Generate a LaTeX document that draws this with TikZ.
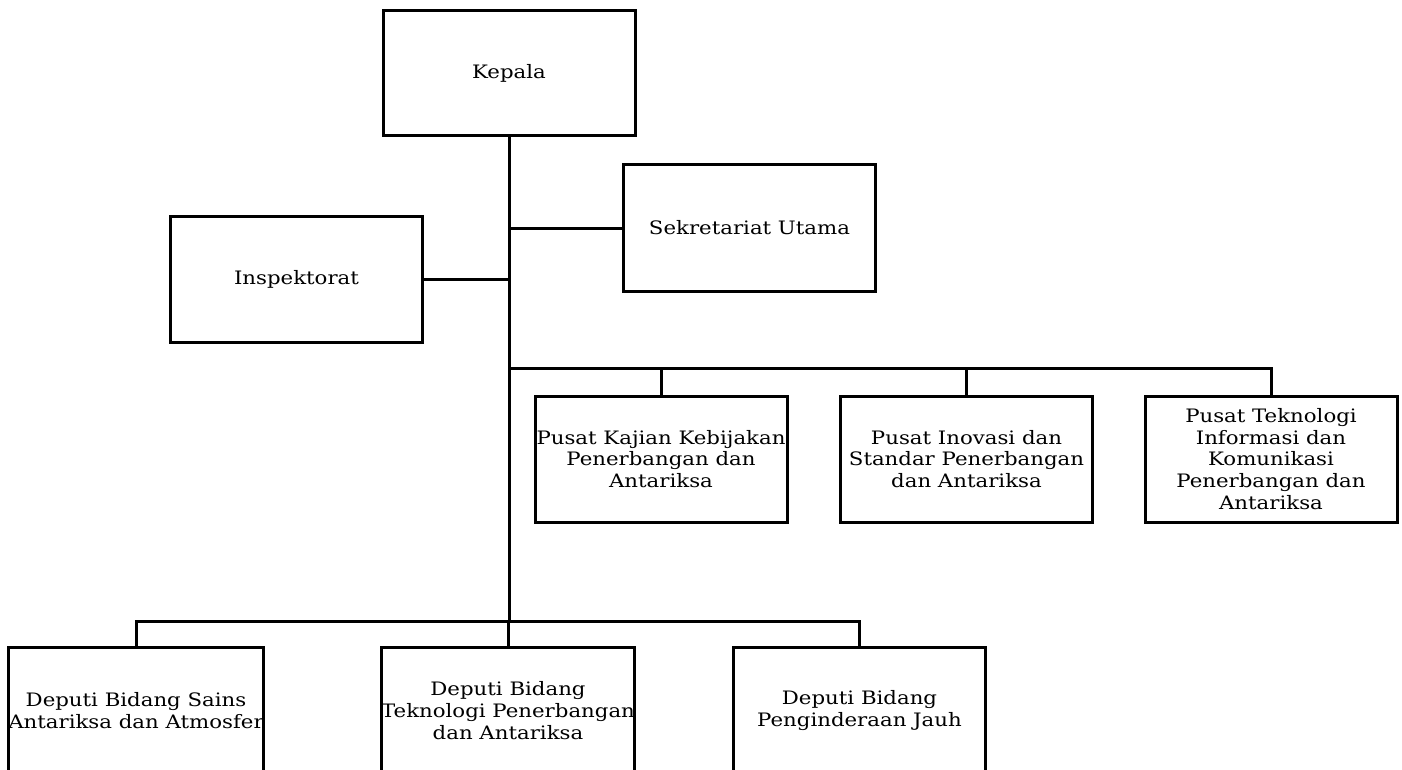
\documentclass[tikz,border=0pt]{standalone}
\usepackage{fontspec}
\setmainfont{DejaVu Serif}[FakeStretch=1.15]
\begin{document}
\begin{tikzpicture}[x=1pt,y=-1pt,
  box/.style={draw, line width=3pt, minimum width=252pt, minimum height=126pt,
    inner sep=0pt, align=center, font=\fontsize{18.5}{21.7}\selectfont},
  conn/.style={line width=3pt}]
\useasboundingbox (0,0) rectangle (1402,770);
\clip (0,0) rectangle (1402,770);
\node[box, minimum height=125pt] (kepala) at (509,73.5) {Kepala};
\node[box] (sek) at (749.5,228) {Sekretariat Utama};
\node[box] (insp) at (296.5,279) {Inspektorat};
\node[box] (pkajian) at (661,459) {Pusat Kajian Kebijakan\\Penerbangan dan\\Antariksa};
\node[box] (pinovasi) at (966.5,459) {Pusat Inovasi dan\\Standar Penerbangan\\dan Antariksa};
\node[box] (ptik) at (1271,459) {Pusat Teknologi\\Informasi dan\\Komunikasi\\Penerbangan dan\\Antariksa};
\node[box] (dsains) at (136,710.5) {Deputi Bidang Sains\\Antariksa dan Atmosfer};
\node[box] (dtek) at (508,710.5) {Deputi Bidang\\Teknologi Penerbangan\\dan Antariksa};
\node[box] (dpeng) at (859.5,710.5) {Deputi Bidang\\Penginderaan Jauh};
\coordinate (bus1) at (509,368.5);
\coordinate (bus2) at (509,621);
\draw[conn] (kepala.south) -- (bus2);
\draw[conn] (sek.west) -- (sek.west -| kepala.south);
\draw[conn] (insp.east) -- (insp.east -| kepala.south);
\draw[conn] (bus1) -| (ptik.north);
\draw[conn] (pkajian.north) -- (pkajian.north |- bus1);
\draw[conn] (pinovasi.north) -- (pinovasi.north |- bus1);
\draw[conn] (dsains.north) |- (bus2) -| (dpeng.north);
\draw[conn] (dtek.north) -- (dtek.north |- bus2);
\end{tikzpicture}
\end{document}
